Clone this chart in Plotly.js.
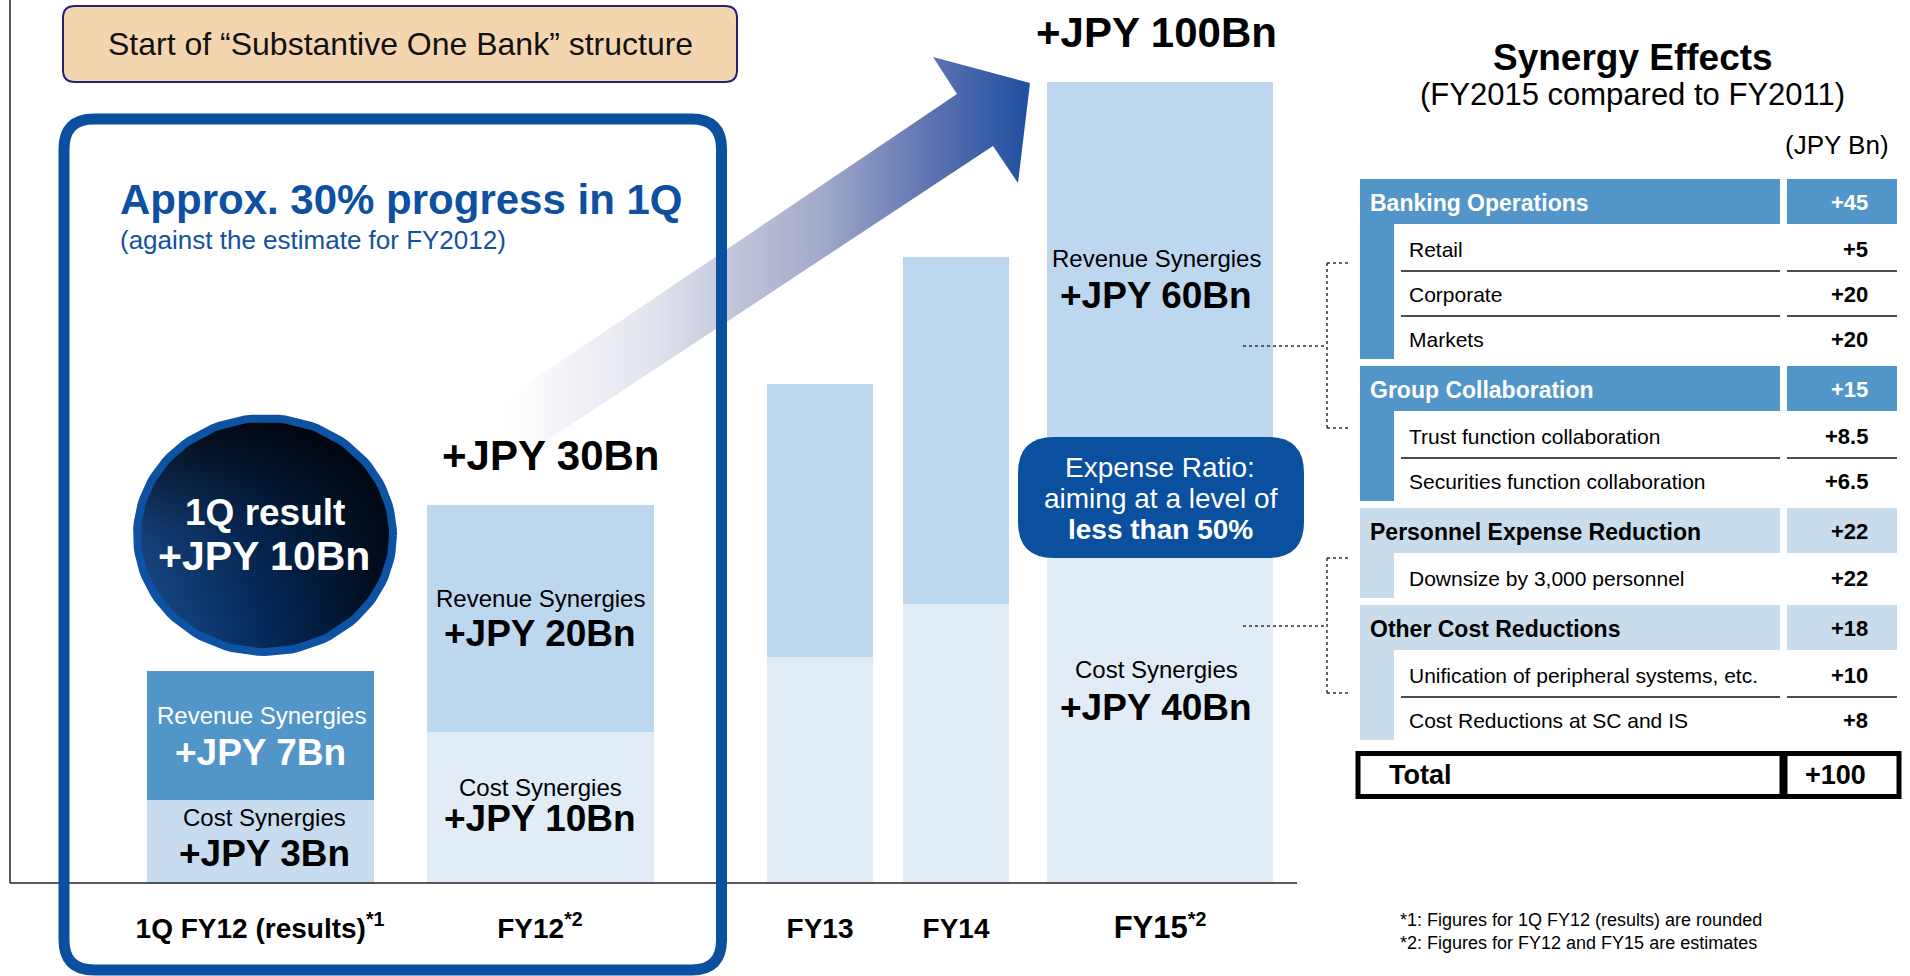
<!DOCTYPE html>
<html>
<head>
<meta charset="utf-8">
<script src="https://cdn.plot.ly/plotly-3.0.1.min.js"></script>
<style>
html,body{margin:0;padding:0;background:#fff;overflow:hidden}
#chart{width:1910px;height:976px}
</style>
</head>
<body>
<div id="chart"></div>
<script>
// ================= DATA =================
const categories = ['1Q FY12 (results)', 'FY12', 'FY13', 'FY14', 'FY15'];
const categoryNotes = ['*1', '*2', '', '', '*2'];
// bar heights as drawn in the picture (bars are not to scale), units: FY15 total = 100
const costBar = [10.4, 18.9, 28.2, 34.8, 44];
const revenueBar = [16.1, 28.3, 34.1, 43.4, 56];
// amounts written on the bars (JPY Bn); null = not labelled
const costLabel = [3, 10, null, null, 40];
const revenueLabel = [7, 20, null, null, 60];
const totalLabel = [10, 30, null, null, 100];

const tableItems = ['Banking Operations', 'Retail', 'Corporate', 'Markets',
  'Group Collaboration', 'Trust function collaboration', 'Securities function collaboration',
  'Personnel Expense Reduction', 'Downsize by 3,000 personnel',
  'Other Cost Reductions', 'Unification of peripheral systems, etc.', 'Cost Reductions at SC and IS'];
const tableValues = [45, 5, 20, 20, 15, 8.5, 6.5, 22, 22, 18, 10, 8];
const tableLevel = ['group', 'item', 'item', 'item', 'group', 'item', 'item', 'group', 'item', 'group', 'item', 'item'];
const groupKind = ['revenue', 'revenue', 'cost', 'cost'];
const tableTotal = 100;

const footnotes = ['*1: Figures for 1Q FY12 (results) are rounded', '*2: Figures for FY12 and FY15 are estimates'];

// ================= STYLE / LAYOUT CONSTANTS =================
const FONT = 'Liberation Sans, Arial, Helvetica, sans-serif';
const W = 1910, H = 976;
const BASE_PX = 883, TOP_PX = 82;           // pixel rows of y=0 and y=100
const BAR_X = [260, 540, 820, 956, 1160];     // bar centres (px)
const BAR_W = [227, 227, 106, 106, 226];      // bar widths (px)
const BLUE = '#0b4f9f';
const MID = '#5296c9', LIGHT = '#c8dcec';
const HATCH = '#bdd7ee';

const fmtBn = v => '+JPY ' + v + 'Bn';
const plus = v => '+' + v;

// ================= TRACES =================
const traces = [];
traces.push({
  type: 'bar', x: BAR_X, y: costBar, width: BAR_W, xaxis: 'x', yaxis: 'y',
  marker: {color: ['#c7dcee', '#e1ecf6', '#e1ecf6', '#e1ecf6', '#e1ecf6'], line: {width: 0}},
  hoverinfo: 'skip', showlegend: false
});
traces.push({
  type: 'bar', x: BAR_X, y: revenueBar, width: BAR_W, xaxis: 'x', yaxis: 'y',
  marker: {color: [MID, HATCH, HATCH, HATCH, HATCH], line: {width: 0}},
  hoverinfo: 'skip', showlegend: false
});

// gradient arrow (decorative, pixel axes)
traces.push({
  type: 'scatter', mode: 'lines', xaxis: 'x2', yaxis: 'y2',
  x: [490, 957, 933, 1030, 1018, 993, 522, 490],
  y: [409, 94, 57, 83, 183, 146, 457, 409],
  fill: 'toself', line: {width: 0, color: 'rgba(0,0,0,0)'},
  fillgradient: {type: 'horizontal', colorscale: [
    [0, 'rgba(255,255,255,0)'], [0.12, 'rgba(244,244,249,0.9)'], [0.3, '#e2e4ee'],
    [0.44, '#c4c8db'], [0.62, '#a0a8c9'], [0.82, '#5c72b0'], [1, '#1f4f9f']]},
  hoverinfo: 'skip', showlegend: false
});

// "1Q result" disc
const ex = [], ey = [];
for (let k = 0; k <= 120; k++) {
  const t = 2 * Math.PI * k / 120;
  ex.push(265 + 128 * Math.cos(t));
  ey.push(535 + 117 * Math.sin(t));
}
traces.push({
  type: 'scatter', mode: 'lines', xaxis: 'x2', yaxis: 'y2', x: ex, y: ey,
  fill: 'toself', line: {width: 0, color: 'rgba(0,0,0,0)'},
  fillgradient: {type: 'horizontal', colorscale: [[0, '#1b4f96'], [0.5, '#042b5d'], [1, '#000a1a']]},
  hoverinfo: 'skip', showlegend: false
});
traces.push({
  type: 'scatter', mode: 'lines', xaxis: 'x2', yaxis: 'y2', x: ex, y: ey,
  fill: 'toself', line: {width: 8, color: '#0e52a3'},
  fillgradient: {type: 'vertical', colorscale: [[0, 'rgba(0,0,0,0)'], [0.5, 'rgba(0,0,0,0.2)'], [1, 'rgba(0,0,0,0.85)']]},
  hoverinfo: 'skip', showlegend: false
});

// ================= SHAPES & ANNOTATIONS =================
const shapes = [];
const ann = [];
const P = {xref: 'x2', yref: 'y2'};

function rr(x0, y0, x1, y1, r) {
  return `M${x0 + r},${y0} L${x1 - r},${y0} Q${x1},${y0} ${x1},${y0 + r} L${x1},${y1 - r} Q${x1},${y1} ${x1 - r},${y1} ` +
         `L${x0 + r},${y1} Q${x0},${y1} ${x0},${y1 - r} L${x0},${y0 + r} Q${x0},${y0} ${x0 + r},${y0} Z`;
}
function rect(x0, y0, x1, y1, fill, line) {
  shapes.push(Object.assign({type: 'rect', x0, y0, x1, y1, fillcolor: fill || 'rgba(0,0,0,0)',
    line: line || {width: 0}, layer: 'above'}, P));
}
function hline(x0, x1, y, color, width, dash) {
  shapes.push(Object.assign({type: 'line', x0, x1, y0: y, y1: y,
    line: {color: color, width: width, dash: dash || 'solid'}, layer: 'above'}, P));
}
function vline(x, y0, y1, color, width, dash) {
  shapes.push(Object.assign({type: 'line', x0: x, x1: x, y0, y1,
    line: {color: color, width: width, dash: dash || 'solid'}, layer: 'above'}, P));
}
function text(t, x, y, size, opts) {
  opts = opts || {};
  ann.push({xref: 'x2', yref: 'y2', x, y, text: t, showarrow: false,
    xanchor: opts.xa || 'center', yanchor: 'middle',
    font: {family: FONT, size: size, color: opts.color || '#000', weight: opts.bold ? 'bold' : 'normal'}});
}

// axes lines
vline(10, 0, BASE_PX, '#222', 1.5);
hline(10, 1297, BASE_PX, '#222', 1.5);

// banner
shapes.push(Object.assign({type: 'path', path: rr(63, 6, 737, 82, 12), fillcolor: '#f3d6b0',
  line: {color: '#22207a', width: 2}, layer: 'above'}, P));
text('Start of \u201cSubstantive One Bank\u201d structure', 400, 44, 32, {color: '#111'});

// big highlight frame
shapes.push(Object.assign({type: 'path', path: rr(64, 119, 721.5, 970, 30), fillcolor: 'rgba(0,0,0,0)',
  line: {color: BLUE, width: 11}, layer: 'above'}, P));
text('Approx. 30% progress in 1Q', 118, 199, 42, {xa: 'left', bold: true, color: '#0d4fa0'});
text('(against the estimate for FY2012)', 118, 240, 26, {xa: 'left', color: '#1351a0'});

// disc text
text('1Q result', 265, 512, 37, {bold: true, color: '#fff'});
text(fmtBn(totalLabel[0]), 264, 556, 41, {bold: true, color: '#fff'});

// bar labels
text('Revenue Synergies', 261, 715, 24, {color: '#fff'});
text(fmtBn(revenueLabel[0]), 260, 752, 37, {bold: true, color: '#fff'});
text('Cost Synergies', 264, 817, 24);
text(fmtBn(costLabel[0]), 264, 853, 37, {bold: true});

text('Revenue Synergies', 540, 598, 24);
text(fmtBn(revenueLabel[1]), 540, 633, 37, {bold: true});
text('Cost Synergies', 540, 787, 24);
text(fmtBn(costLabel[1]), 540, 818, 37, {bold: true});

text('Revenue Synergies', 1156, 258, 24);
text(fmtBn(revenueLabel[4]), 1156, 295, 37, {bold: true});
text('Cost Synergies', 1156, 669, 24);
text(fmtBn(costLabel[4]), 1156, 707, 37, {bold: true});

// totals above bars (tied to bar tops)
const totalShift = [0, 11, 0, 0, -4];
totalLabel.forEach((v, i) => {
  if (v === null || i === 0) return;
  ann.push({xref: 'x', yref: 'y', x: BAR_X[i], y: costBar[i] + revenueBar[i], xshift: totalShift[i], yshift: 49,
    text: fmtBn(v), showarrow: false, xanchor: 'center', yanchor: 'middle',
    font: {family: FONT, size: 42, color: '#000', weight: 'bold'}});
});

// expense ratio box
shapes.push(Object.assign({type: 'path', path: rr(1018, 437, 1304, 558, 36), fillcolor: BLUE,
  line: {width: 0}, layer: 'above'}, P));
text('Expense Ratio:', 1160, 467, 28, {color: '#fff'});
text('aiming at a level of', 1161, 498, 28, {color: '#fff'});
text('less than 50%', 1160, 529, 28, {color: '#fff', bold: true});

// dotted brackets
hline(1243, 1327, 346, '#333', 1.5, 'dot');
vline(1327, 263, 428, '#333', 1.5, 'dot');
hline(1327, 1351, 263, '#333', 1.5, 'dot');
hline(1327, 1351, 428, '#333', 1.5, 'dot');
hline(1243, 1327, 626, '#333', 1.5, 'dot');
vline(1327, 558, 693, '#333', 1.5, 'dot');
hline(1327, 1351, 558, '#333', 1.5, 'dot');
hline(1327, 1351, 693, '#333', 1.5, 'dot');

// table title
text('Synergy Effects', 1633, 57, 37, {bold: true});
text('(FY2015 compared to FY2011)', 1632, 94, 31);
text('(JPY Bn)', 1891, 145, 26, {xa: 'right'});

// table body
const TB = {left: 1360, strip: 1394, textX: 1407, colR: 1780, valL: 1787, valR: 1897, valX: 1870,
  top: 179, rowH: 45, gap: 7};
let y = TB.top, g = -1, gStart = TB.top;
const groupBounds = [];
tableItems.forEach((label, i) => {
  if (tableLevel[i] === 'group') {
    if (i > 0) { groupBounds.push([gStart, y]); y += TB.gap; }
    g++; gStart = y;
    const fill = groupKind[g] === 'revenue' ? MID : LIGHT;
    const tc = groupKind[g] === 'revenue' ? '#fff' : '#000';
    rect(TB.left, y, TB.colR, y + TB.rowH, fill);
    rect(TB.valL, y, TB.valR, y + TB.rowH, fill);
    text(label, TB.left + 8, y + TB.rowH / 2 + 1, 23, {xa: 'left', bold: true, color: tc});
    text(plus(tableValues[i]), TB.valX, y + TB.rowH / 2 + 1, 22, {xa: 'right', bold: true, color: tc});
  } else {
    text(label, TB.textX, y + TB.rowH / 2 + 3, 21, {xa: 'left'});
    text(plus(tableValues[i]), TB.valX, y + TB.rowH / 2 + 3, 22, {xa: 'right', bold: true});
    if (tableLevel[i + 1] === 'item') {
      hline(TB.strip + 7, TB.colR, y + TB.rowH + 2, '#111', 1.5);
      hline(TB.valL, TB.valR, y + TB.rowH + 2, '#111', 1.5);
    }
  }
  y += TB.rowH;
});
groupBounds.push([gStart, y]);
groupBounds.forEach((b, k) => {
  rect(TB.left, b[0], TB.strip, b[1], groupKind[k] === 'revenue' ? MID : LIGHT);
});
// total
const ty = y + 11;
rect(1358, ty + 2.5, 1782, ty + 45.5, '#fff', {color: '#000', width: 5});
rect(1785, ty + 2.5, 1899, ty + 45.5, '#fff', {color: '#000', width: 5});
text('Total', 1387, ty + 24, 27, {xa: 'left', bold: true});
text(plus(tableTotal), 1868, ty + 24, 27, {xa: 'right', bold: true});

// footnotes
footnotes.forEach((f, i) => text(f, 1398, 920 + 23 * i, 18, {xa: 'left'}));

// ================= LAYOUT =================
const ticktext = categories.map((c, i) => {
  const main = i === 4 ? `<span style="font-size:31px">${c}</span>` : c;
  return main + (categoryNotes[i] ? `<sup>${categoryNotes[i]}</sup>` : '');
});

const layout = {
  width: W, height: H, margin: {l: 0, r: 0, t: 0, b: 0, pad: 0},
  paper_bgcolor: '#fff', plot_bgcolor: 'rgba(0,0,0,0)',
  barmode: 'stack', showlegend: false,
  xaxis: {domain: [0, 1], range: [0, W], anchor: 'y', showgrid: false, zeroline: false, showline: false,
    ticks: '', tickvals: BAR_X, ticktext: ticktext, tickangle: 0, ticklabelstandoff: 26,
    tickfont: {family: FONT, size: 28, color: '#000', weight: 'bold'}, fixedrange: true},
  yaxis: {domain: [(H - BASE_PX) / H, (H - TOP_PX) / H], range: [0, 100], anchor: 'x', visible: false, fixedrange: true},
  xaxis2: {domain: [0, 1], range: [0, W], anchor: 'y2', visible: false, fixedrange: true},
  yaxis2: {domain: [0, 1], range: [H, 0], anchor: 'x2', visible: false, fixedrange: true},
  shapes: shapes, annotations: ann
};

Plotly.newPlot('chart', traces, layout, {staticPlot: true, displayModeBar: false});
</script>
</body>
</html>
